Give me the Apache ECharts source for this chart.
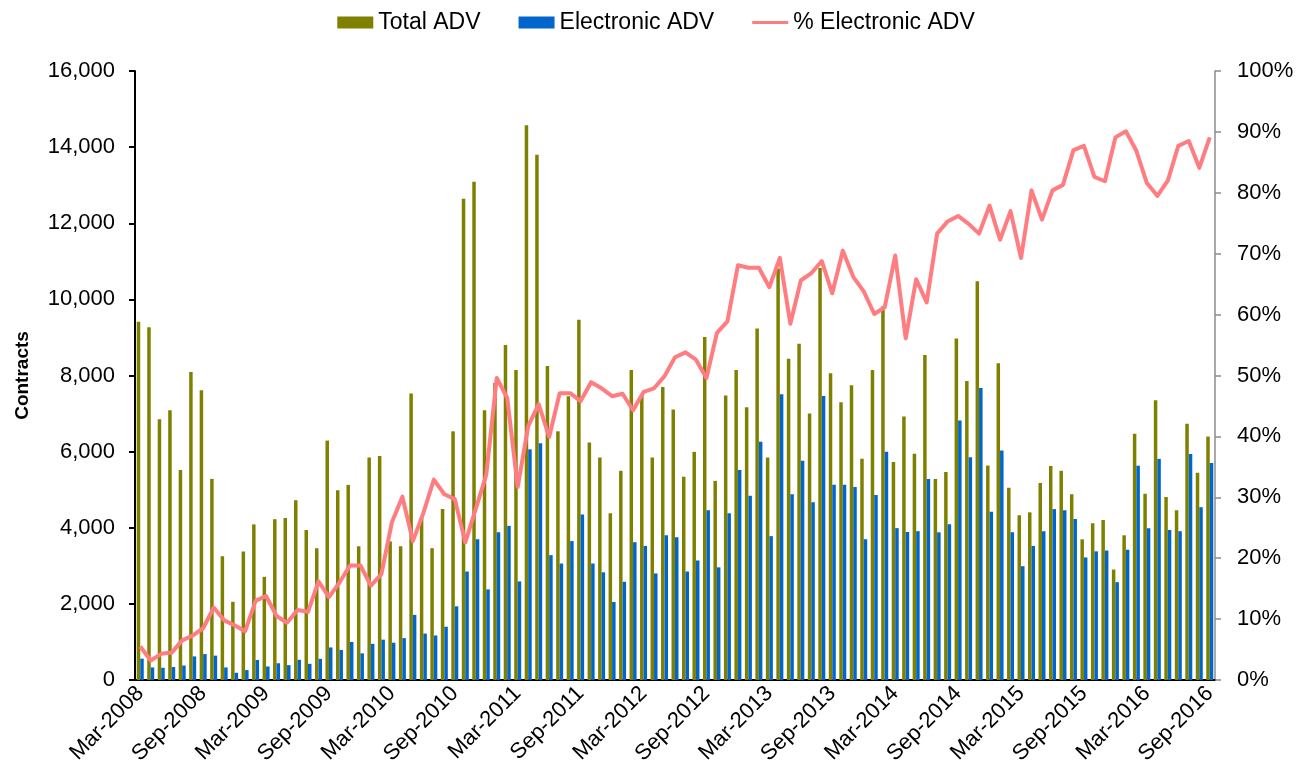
<!DOCTYPE html>
<html>
<head>
<meta charset="utf-8">
<script src="https://cdn.jsdelivr.net/npm/echarts@6/dist/echarts.min.js"></script>
<style>
html, body { margin: 0; padding: 0; background: #ffffff; }
#chartbox { width: 1312px; height: 777px; }
</style>
</head>
<body>
<div id="chartbox"></div>
<script>
// monthly categories, Mar-2008 .. Sep-2016
const monthNames = ["Jan", "Feb", "Mar", "Apr", "May", "Jun", "Jul", "Aug", "Sep", "Oct", "Nov", "Dec"];
const categories = [];
for (let k = 0; k < 103; k++) {
    const m = 2 + k;
    categories.push(monthNames[m % 12] + "-" + (2008 + Math.floor(m / 12)));
}

const totalADV = [
    9415, 9266, 6852, 7085, 5517, 8091, 7614, 5284, 3251, 2054,
    3378, 4088, 2711, 4225, 4257, 4723, 3939, 3463, 6290, 4988,
    5126, 3516, 5846, 5888, 3643, 3516, 7529, 4278, 3463, 4490,
    6534, 12644, 13089, 7085, 7800, 8800, 8144, 14572, 13799, 8250,
    6534, 7455, 9467, 6237, 5846, 4384, 5496, 8144, 7508, 5846,
    7700, 7106, 5337, 5994, 9012, 5231, 7477, 8144, 7169, 9235,
    5846, 10812, 8440, 8832, 7000, 10823, 8059, 7296, 7741, 5814,
    8144, 9817, 5729, 6926, 5941, 8536, 5284, 5464, 8970, 7858,
    10474, 5634, 8324, 5051, 4331, 4405, 5178, 5623, 5496, 4882,
    3696, 4120, 4204, 2902, 3802, 6470, 4893, 7349, 4808, 4458,
    6735, 5443, 6396
];

const electronicADV = [
    560, 330, 320, 340, 380, 620, 680, 640, 330, 190,
    260, 525, 355, 440, 390, 530, 425, 555, 855, 790,
    1000, 700, 950, 1060, 980, 1100, 1710, 1220, 1170, 1400,
    1935, 2850, 3700, 2380, 3880, 4050, 2590, 6060, 6220, 3280,
    3060, 3650, 4350, 3060, 2830, 2050, 2580, 3620, 3520, 2800,
    3800, 3750, 2850, 3140, 4460, 2960, 4380, 5520, 4840, 6260,
    3780, 7510, 4880, 5760, 4670, 7460, 5130, 5130, 5070, 3700,
    4860, 6000, 3990, 3890, 3910, 5280, 3880, 4090, 6820, 5850,
    7670, 4420, 6030, 3880, 2990, 3520, 3910, 4490, 4460, 4230,
    3220, 3380, 3400, 2570, 3420, 5630, 3990, 5810, 3940, 3910,
    5940, 4540, 5700
];

const electronicPct = [
    5.5, 3.2, 4.3, 4.5, 6.5, 7.3, 8.5, 11.9, 9.8, 9.0,
    8.0, 13.0, 13.8, 10.5, 9.4, 11.5, 11.2, 16.2, 13.6, 16.0,
    18.8, 18.8, 15.5, 17.4, 25.9, 30.1, 22.8, 27.4, 32.9, 30.5,
    29.7, 22.6, 28.1, 33.7, 49.6, 46.3, 31.7, 41.7, 45.3, 39.9,
    47.1, 47.1, 45.8, 48.9, 47.9, 46.6, 47.0, 44.3, 47.3, 47.9,
    49.9, 53.0, 53.8, 52.6, 49.6, 57.0, 58.9, 68.1, 67.7, 67.7,
    64.5, 69.3, 58.5, 65.6, 66.8, 68.8, 63.5, 70.5, 66.2, 63.8,
    60.1, 61.2, 69.7, 56.1, 65.8, 62.0, 73.3, 75.3, 76.2, 74.9,
    73.3, 77.9, 72.3, 77.0, 69.3, 80.4, 75.6, 80.4, 81.3, 87.0,
    87.7, 82.6, 81.9, 89.1, 90.1, 86.9, 81.6, 79.5, 82.0, 87.7,
    88.5, 84.1, 89.1
];

const fontName = "Liberation Sans, Arial, sans-serif";

var myChart = echarts.init(document.getElementById("chartbox"));
let option = {
    animation: false,
    backgroundColor: "#ffffff",
    textStyle: {
        fontFamily: fontName,
        color: "#000000",
    },
    legend: {
        top: 6,
        left: "center",
        itemGap: 38,
        itemWidth: 36,
        itemHeight: 12,
        textStyle: {
            fontFamily: fontName,
            fontSize: 23,
            color: "#000000",
        },
        data: [
            { name: "Total ADV", icon: "rect" },
            { name: "Electronic ADV", icon: "rect" },
            { name: "% Electronic ADV", icon: "path://M0,0H48V4H0Z" },
        ],
    },
    grid: {
        left: 135,
        right: 97,
        top: 71,
        bottom: 97,
    },
    xAxis: [
        {
            type: "category",
            data: categories,
            boundaryGap: true,
            axisLine: {
                lineStyle: {
                    color: "#000000",
                    width: 2,
                },
            },
            axisTick: {
                interval: 5,
                length: 6,
                lineStyle: {
                    color: "#000000",
                    width: 2,
                },
            },
            axisLabel: {
                interval: 5,
                rotate: 45,
                margin: 10,
                fontFamily: fontName,
                fontSize: 22,
                color: "#000000",
            },
            splitLine: {
                show: false,
            },
        },
    ],
    yAxis: [
        {
            type: "value",
            min: 0,
            max: 16000,
            interval: 2000,
            name: "Contracts",
            nameLocation: "middle",
            nameGap: 103,
            nameTextStyle: {
                fontFamily: fontName,
                fontSize: 19,
                fontWeight: "bold",
                color: "#000000",
            },
            axisLine: {
                show: true,
                lineStyle: {
                    color: "#000000",
                    width: 2,
                },
            },
            axisTick: {
                show: true,
                length: 6,
                lineStyle: {
                    color: "#000000",
                    width: 2,
                },
            },
            axisLabel: {
                margin: 20,
                fontFamily: fontName,
                fontSize: 22,
                color: "#000000",
                formatter: function (v) {
                    return v.toLocaleString("en-US");
                },
            },
            splitLine: {
                show: false,
            },
        },
        {
            type: "value",
            min: 0,
            max: 100,
            interval: 10,
            position: "right",
            axisLine: {
                show: true,
                lineStyle: {
                    color: "#8c8c8c",
                    width: 1.5,
                },
            },
            axisTick: {
                show: true,
                length: 6,
                lineStyle: {
                    color: "#8c8c8c",
                    width: 1.5,
                },
            },
            axisLabel: {
                margin: 22,
                fontFamily: fontName,
                fontSize: 22,
                color: "#000000",
                formatter: "{value}%",
            },
            splitLine: {
                show: false,
            },
        },
    ],
    series: [
        {
            name: "Total ADV",
            type: "bar",
            barWidth: 3.5,
            barGap: "0%",
            itemStyle: {
                color: "#808000",
            },
            data: totalADV,
        },
        {
            name: "Electronic ADV",
            type: "bar",
            barWidth: 3.5,
            barGap: "0%",
            itemStyle: {
                color: "#0066cc",
            },
            data: electronicADV,
        },
        {
            name: "% Electronic ADV",
            type: "line",
            yAxisIndex: 1,
            symbol: "none",
            lineStyle: {
                width: 4,
                color: "#ff7c80",
                join: "round",
            },
            itemStyle: {
                color: "#ff7c80",
            },
            data: electronicPct,
        },
    ],
};
option && myChart.setOption(option);
window.addEventListener("resize", function () {
    myChart.resize();
});
</script>
</body>
</html>
